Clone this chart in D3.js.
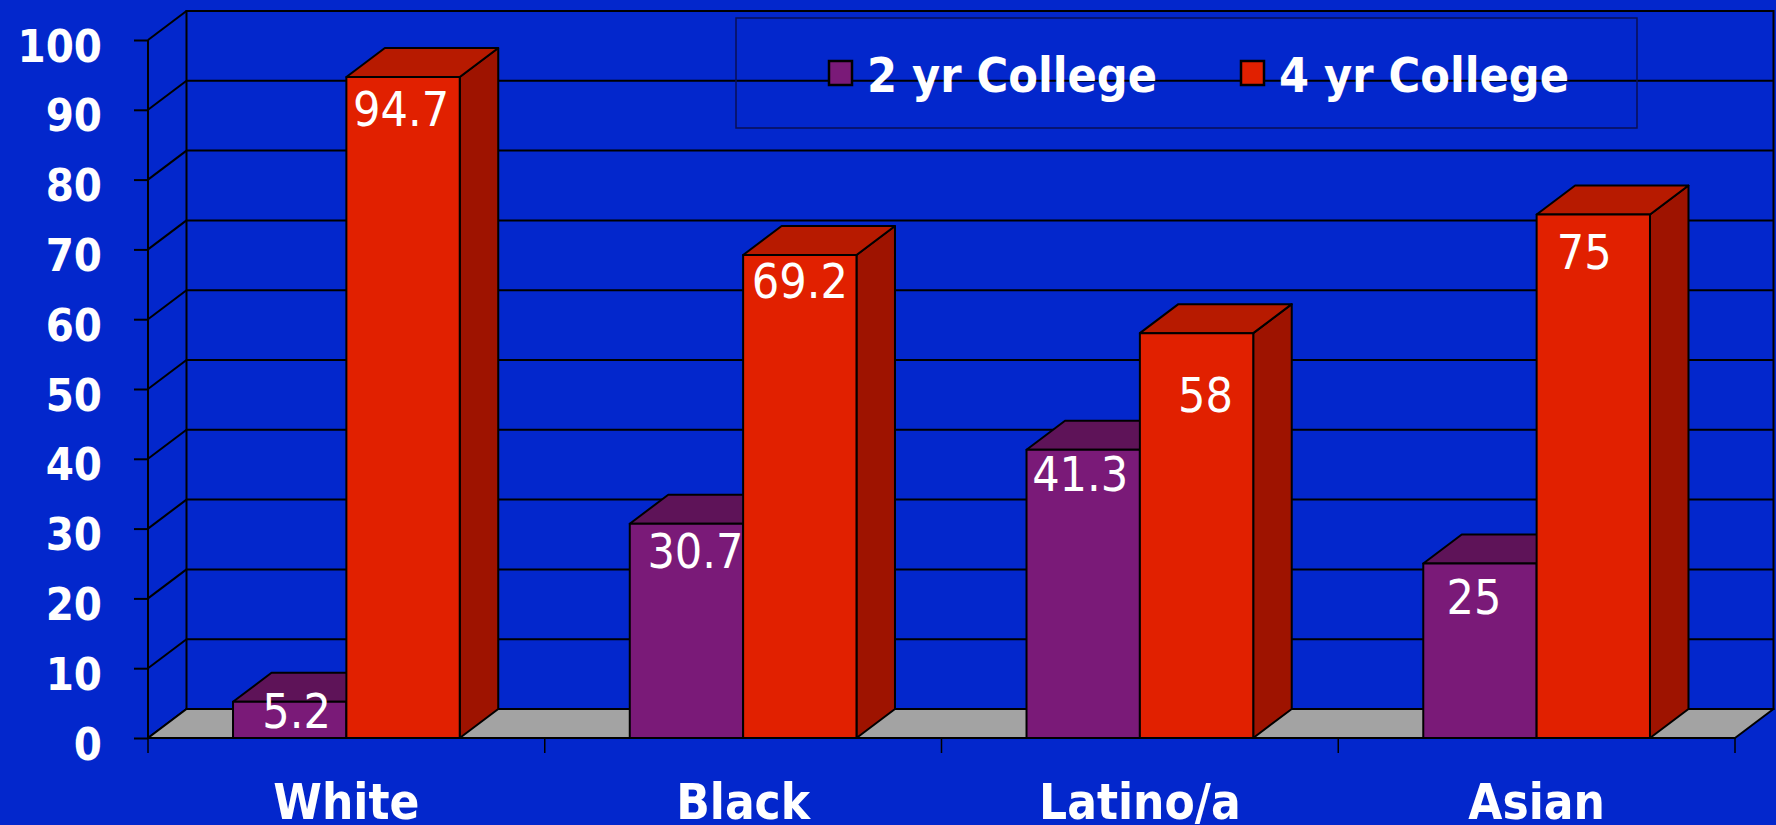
<!DOCTYPE html>
<html>
<head>
<meta charset="utf-8">
<script src="https://cdn.jsdelivr.net/npm/d3@7"></script>
<style>
  html, body { margin: 0; padding: 0; background: #0327CC; overflow: hidden; }
  svg { display: block; }
  text { font-family: "DejaVu Sans Condensed", "DejaVu Sans", sans-serif; font-stretch: condensed; fill: #ffffff; }
</style>
</head>
<body>
<svg id="chart" width="1776" height="825"></svg>
<script>
// Data
const categories = ["White", "Black", "Latino/a", "Asian"];
const series = ["2 yr College", "4 yr College"];
const twoYear = [5.2, 30.7, 41.3, 25];
const fourYear = [94.7, 69.2, 58, 75];
const yTicks = [0, 10, 20, 30, 40, 50, 60, 70, 80, 90, 100];

// Layout / style
const W = 1776, H = 825;
const DX = 38.5, DY = 29;             // 3D depth offset
const colors = {
  "2 yr College": { front: "#7A1A78", top: "#5E1358", side: "#4C0F48" },
  "4 yr College": { front: "#E12000", top: "#B71A00", side: "#9E1300" }
};
// per-label nudges [dx, dy] from the default spot just under the bar top
const labelNudge = {
  "2 yr College": [[7, -18], [9, 0], [-3, -3], [-6, 6]],
  "4 yr College": [[-2, 5], [0, -1], [9, 35], [-9, 10]]
};
const valuesBySeries = { "2 yr College": twoYear, "4 yr College": fourYear };

const svg = d3.select("#chart");
svg.append("rect").attr("width", W).attr("height", H).attr("fill", "#0327CC");

const y = d3.scaleLinear().domain([0, 100]).range([738, 40]);
const x = d3.scaleBand().domain(categories).range([148, 1735]);
const xs = d3.scaleBand().domain(series).range([0, x.bandwidth()]).paddingOuter(0.75);
const [x0, x1] = x.range();
const y0 = y(0);

const LINE = { stroke: "#000", width: 2 };

// Back wall and gridlines
const wall = svg.append("g");
wall.append("rect")
  .attr("x", x0 + DX).attr("y", y(100) - DY)
  .attr("width", x1 - x0).attr("height", y0 - y(100))
  .attr("fill", "none").attr("stroke", LINE.stroke).attr("stroke-width", LINE.width);
wall.selectAll("line.grid").data(yTicks.filter(t => t > 0 && t < 100)).join("line")
  .attr("class", "grid")
  .attr("x1", x0 + DX).attr("x2", x1 + DX)
  .attr("y1", d => y(d) - DY).attr("y2", d => y(d) - DY)
  .attr("stroke", LINE.stroke).attr("stroke-width", LINE.width);

// Left side wall
wall.selectAll("line.side").data(yTicks).join("line")
  .attr("class", "side")
  .attr("x1", x0).attr("x2", x0 + DX)
  .attr("y1", d => y(d)).attr("y2", d => y(d) - DY)
  .attr("stroke", LINE.stroke).attr("stroke-width", LINE.width);

// Floor
svg.append("polygon")
  .attr("points", [[x0, y0], [x1, y0], [x1 + DX, y0 - DY], [x0 + DX, y0 - DY]].join(" "))
  .attr("fill", "#A3A3A3").attr("stroke", "#000").attr("stroke-width", 2).attr("stroke-linejoin", "round");

// Front value axis
svg.append("line").attr("x1", x0).attr("x2", x0).attr("y1", y(0)).attr("y2", y(100))
  .attr("stroke", "#000").attr("stroke-width", 2);

const yAxis = svg.append("g").attr("transform", `translate(${x0},0)`)
  .call(d3.axisLeft(y).tickValues(yTicks).tickFormat(d3.format("d")).tickSize(14).tickPadding(32));
yAxis.select(".domain").remove();
yAxis.selectAll(".tick line").attr("stroke", "#000").attr("stroke-width", 2);
yAxis.selectAll(".tick text")
  .attr("dy", null).attr("y", 21)
  .attr("fill", "#fff")
  .style("font-family", '"DejaVu Sans Condensed", "DejaVu Sans", sans-serif')
  .style("font-size", "45px").style("font-weight", "bold");

// Category axis line and ticks
svg.append("line").attr("x1", x0).attr("x2", x1).attr("y1", y0).attr("y2", y0)
  .attr("stroke", "#000").attr("stroke-width", 2);
svg.selectAll("line.ctick").data(categories.map(c => x(c)).concat([x1])).join("line")
  .attr("class", "ctick")
  .attr("x1", d => d).attr("x2", d => d).attr("y1", y0).attr("y2", y0 + 15)
  .attr("stroke", "#000").attr("stroke-width", 1.5);
svg.selectAll("text.cat").data(categories).join("text")
  .attr("class", "cat")
  .attr("x", d => x(d) + x.bandwidth() / 2).attr("y", 819)
  .attr("text-anchor", "middle")
  .style("font-size", "49px").style("font-weight", "bold")
  .text(d => d);

// Bars
const bars = [];
categories.forEach((c, i) => {
  series.forEach(s => bars.push({ cat: c, i, series: s, value: valuesBySeries[s][i] }));
});

const barG = svg.append("g");
bars.forEach(b => {
  const xl = x(b.cat) + xs(b.series), w = xs.bandwidth();
  const yt = y(b.value), yb = y(0);
  const col = colors[b.series];
  const g = barG.append("g").attr("stroke", "#000").attr("stroke-width", 2).attr("stroke-linejoin", "round");
  g.append("polygon")
    .attr("points", [[xl + w, yt], [xl + w + DX, yt - DY], [xl + w + DX, yb - DY], [xl + w, yb]].join(" "))
    .attr("fill", col.side);
  g.append("polygon")
    .attr("points", [[xl, yt], [xl + w, yt], [xl + w + DX, yt - DY], [xl + DX, yt - DY]].join(" "))
    .attr("fill", col.top);
  g.append("rect").attr("x", xl).attr("y", yt).attr("width", w).attr("height", yb - yt)
    .attr("fill", col.front);
});

// Value labels
svg.append("g").selectAll("text").data(bars).join("text")
  .attr("x", d => x(d.cat) + xs(d.series) + xs.bandwidth() / 2 + labelNudge[d.series][d.i][0])
  .attr("y", d => y(d.value) + 44 + labelNudge[d.series][d.i][1])
  .attr("text-anchor", "middle")
  .style("font-size", "48px")
  .text(d => d.value);

// Legend
const legend = svg.append("g");
legend.append("rect").attr("x", 736).attr("y", 18).attr("width", 901).attr("height", 110)
  .attr("fill", "none").attr("stroke", "#0A0F55").attr("stroke-width", 1.5);
const legendX = [829, 1241];
series.forEach((s, k) => {
  legend.append("rect").attr("x", legendX[k]).attr("y", 61).attr("width", 23).attr("height", 24)
    .attr("fill", colors[s].front).attr("stroke", "#000").attr("stroke-width", 2.5);
  legend.append("text").attr("x", legendX[k] + 38).attr("y", 92)
    .style("font-size", "48px").style("font-weight", "bold")
    .text(s);
});
</script>
</body>
</html>
